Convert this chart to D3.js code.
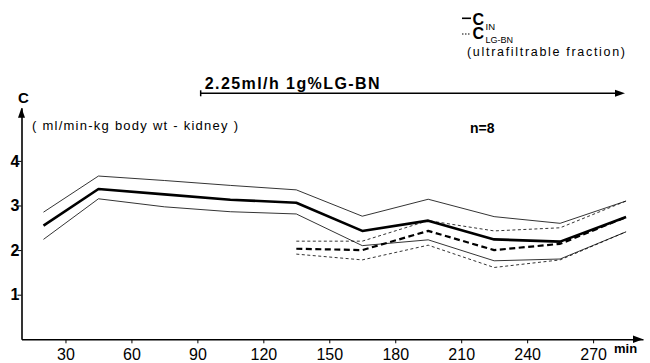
<!DOCTYPE html>
<html>
<head>
<meta charset="utf-8">
<script src="https://cdn.jsdelivr.net/npm/d3@7"></script>
<style>
  body { margin: 0; background: #fff; }
  text { fill: #000; font-family: "Liberation Sans", Arial, sans-serif; }
</style>
</head>
<body>
<div id="chart"></div>
<script>
// data (clearance, ml/min-kg body wt - kidney)
const times = [20, 45, 75, 105, 135, 165, 195, 225, 255, 285];
const cinMean  = [2.55, 3.37, 3.25, 3.13, 3.06, 2.43, 2.66, 2.24, 2.19, 2.74];
const cinUpper = [2.85, 3.66, 3.56, 3.45, 3.35, 2.76, 3.14, 2.75, 2.60, 3.10];
const cinLower = [2.24, 3.15, 2.97, 2.86, 2.81, 2.10, 2.23, 1.76, 1.80, 2.41];

const lgTimes = [135, 165, 195, 225, 255, 285];
const lgMean  = [2.03, 2.00, 2.43, 2.00, 2.14, 2.74];
const lgUpper = [2.20, 2.20, 2.66, 2.43, 2.50, 3.10];
const lgLower = [1.91, 1.78, 2.11, 1.61, 1.78, 2.41];

const xTicks = [30, 60, 90, 120, 150, 180, 210, 240, 270];
const yTicks = [1, 2, 3, 4];
const infusion = [91.5, 284.5];   // min, start and end of the LG-BN infusion arrow

const width = 650, height = 363;

const svg = d3.select("#chart")
  .append("svg")
    .attr("width", width)
    .attr("height", height);

// scales
const xScale = d3.scaleLinear()
  .domain([10, 292.7])
  .range([21.5, 643]);

const yScale = d3.scaleLinear()
  .domain([0, 5.19])
  .range([339.3, 107.8]);

// x axis
const xAxis = svg.append("g")
  .attr("transform", "translate(0," + yScale(0) + ")")
  .call(d3.axisBottom(xScale).tickValues(xTicks).tickSize(4).tickSizeOuter(0).tickFormat(d3.format("d")));
xAxis.select(".domain").attr("stroke-width", 1.6);
xAxis.selectAll(".tick line").attr("stroke-width", 1);
xAxis.selectAll(".tick text")
  .attr("y", 9)
  .attr("dy", "0.71em")
  .style("font-size", "16px")
  .style("font-family", "'Liberation Sans', Arial, sans-serif");

// y axis
const yAxis = svg.append("g")
  .attr("transform", "translate(" + xScale(10) + ",0)")
  .call(d3.axisLeft(yScale).tickValues(yTicks).tickSize(4).tickSizeOuter(0).tickFormat(d3.format("d")));
yAxis.select(".domain").attr("stroke-width", 1.6);
yAxis.selectAll(".tick text")
  .attr("x", -2)
  .style("font-size", "16px")
  .style("font-weight", "bold")
  .style("font-family", "'Liberation Sans', Arial, sans-serif");

// arrow heads on the axes
const x0 = xScale.range()[0], x1 = xScale.range()[1];
const y0 = yScale(0), y1 = yScale.range()[1];
svg.append("path")
  .attr("d", `M${x1},${y0} L${x1 - 10},${y0 - 3.8} L${x1 - 10},${y0 + 3.8} Z`)
  .attr("fill", "#000");
svg.append("path")
  .attr("d", `M${x0},${y1} L${x0 - 3.5},${y1 + 10} L${x0 + 3.5},${y1 + 10} Z`)
  .attr("fill", "#000");

// axis labels
svg.append("text")
  .attr("x", x0 + 2)
  .attr("y", 102.5)
  .style("text-anchor", "middle")
  .style("font-size", "15px")
  .style("font-weight", "bold")
  .text("C");

svg.append("text")
  .attr("x", 32)
  .attr("y", 130)
  .attr("textLength", 206)
  .style("font-size", "13px")
  .text("( ml/min-kg body wt - kidney )");

svg.append("text")
  .attr("x", 614)
  .attr("y", 353)
  .style("font-size", "13px")
  .style("font-weight", "bold")
  .text("min");

svg.append("text")
  .attr("x", 470)
  .attr("y", 133)
  .style("font-size", "14px")
  .style("font-weight", "bold")
  .text("n=8");

// infusion arrow
const ay = 93.3;
const ax0 = xScale(infusion[0]), ax1 = xScale(infusion[1]);
svg.append("line")
  .attr("x1", ax0).attr("x2", ax1 - 6)
  .attr("y1", ay).attr("y2", ay)
  .attr("stroke", "#000").attr("stroke-width", 1.5);
svg.append("line")
  .attr("x1", ax0).attr("x2", ax0)
  .attr("y1", ay - 3).attr("y2", ay + 3)
  .attr("stroke", "#000").attr("stroke-width", 1.5);
svg.append("path")
  .attr("d", `M${ax1},${ay} L${ax1 - 10},${ay - 3.5} L${ax1 - 10},${ay + 3.5} Z`)
  .attr("fill", "#000");
svg.append("text")
  .attr("x", ax0 + 4)
  .attr("y", 88.5)
  .attr("textLength", 175)
  .style("font-size", "16px")
  .style("font-weight", "bold")
  .text("2.25ml/h 1g%LG-BN");

// legend
const legend = svg.append("g");
legend.append("line")
  .attr("x1", 462).attr("x2", 471).attr("y1", 18.3).attr("y2", 18.3)
  .attr("stroke", "#000").attr("stroke-width", 1.6);
legend.append("line")
  .attr("x1", 462).attr("x2", 471).attr("y1", 34).attr("y2", 34)
  .attr("stroke", "#000").attr("stroke-width", 1.2)
  .attr("stroke-dasharray", "1.5,1.5");

const lt = legend.append("text")
  .attr("x", 472.5).attr("y", 25);
lt.append("tspan").style("font-size", "16px").style("font-weight", "bold").text("C");
lt.append("tspan").attr("dx", 1.5).attr("dy", 4.5).style("font-size", "9.5px").text("IN");
lt.append("tspan").attr("x", 472.5).attr("dy", 9.5)
  .style("font-size", "16px").style("font-weight", "bold").text("C");
lt.append("tspan").attr("dx", 1.5).attr("dy", 4).style("font-size", "9px").text("LG-BN");

legend.append("text")
  .attr("x", 467).attr("y", 56)
  .attr("textLength", 158)
  .style("font-size", "12.5px")
  .text("(ultrafiltrable fraction)");

// lines
const line = d3.line()
  .x(d => xScale(d[0]))
  .y(d => yScale(d[1]));

function drawSeries(ts, vals, sw, dash) {
  svg.append("path")
    .datum(ts.map((t, i) => [t, vals[i]]))
    .attr("fill", "none")
    .attr("stroke", "#000")
    .attr("stroke-width", sw)
    .attr("stroke-linejoin", "round")
    .attr("stroke-dasharray", dash)
    .attr("d", line);
}

drawSeries(times, cinUpper, 0.8, null);
drawSeries(times, cinLower, 0.8, null);
drawSeries(times, cinMean, 2.6, null);

drawSeries(lgTimes, lgUpper, 0.8, "3,2.5");
drawSeries(lgTimes, lgLower, 0.8, "3,2.5");
drawSeries(lgTimes, lgMean, 2.2, "6,3.5");
</script>
</body>
</html>
